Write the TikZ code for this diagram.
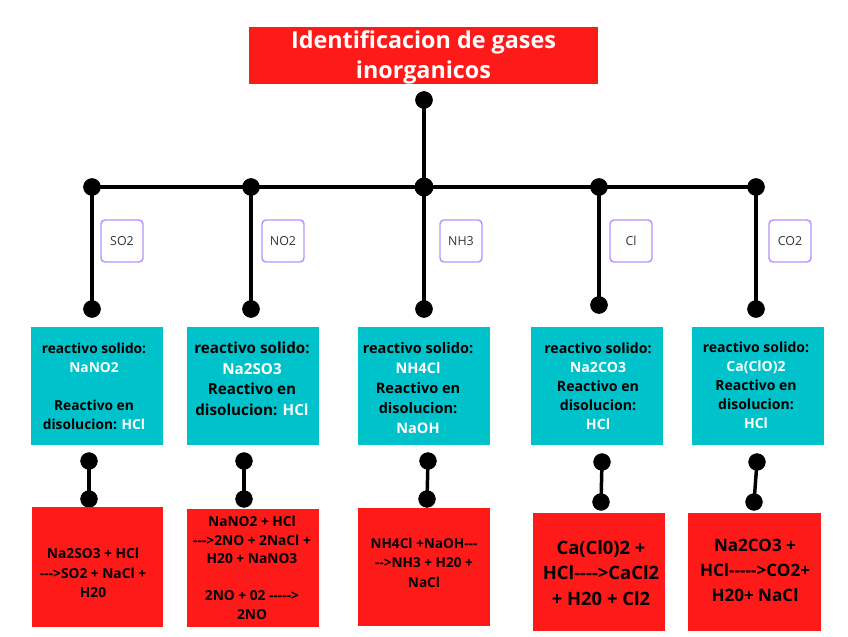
\documentclass[tikz,border=0pt]{standalone}
\usepackage{fontspec}
\setmainfont{Open Sans}[Ligatures=TeXOff]
\definecolor{tred}{RGB}{255,26,26}
\definecolor{tteal}{RGB}{0,194,203}
\definecolor{tlav}{RGB}{182,146,255}
\definecolor{tgray}{RGB}{51,51,51}
\begin{document}
\begin{tikzpicture}[x=0.75pt,y=-0.75pt,
  dot/.style={circle,fill=black,inner sep=0pt,minimum size=13pt},
  bigdot/.style={circle,fill=black,inner sep=0pt,minimum size=14pt},
  wire/.style={line width=3pt},
  sbox/.style={rectangle,inner sep=0pt,minimum width=99pt,minimum height=88.5pt},
  tealbox/.style={sbox,fill=tteal},
  redbox/.style={sbox,fill=tred},
  gaslabel/.style={rectangle,rounded corners=3pt,draw=tlav,line width=1.1pt,minimum size=31.5pt,inner sep=0pt,font=\fontsize{9.3}{10}\selectfont,text=tgray},
  ttext/.style={align=center,font=\bfseries\fontsize{10.5}{14.3}\selectfont,text=black,inner sep=0pt},
  rtext/.style={align=center,font=\bfseries\fontsize{10.2}{14.6}\selectfont,text=black,inner sep=0pt},
]
\useasboundingbox (0,0) rectangle (848,636);

% title
\node[rectangle,fill=tred,minimum width=261.75pt,minimum height=42.75pt,inner sep=0pt] (title) at (423.5,55.5) {};
\node[align=center,text=white,font=\bfseries\fontsize{17.5}{22.5}\selectfont,inner sep=0pt] (titletext) at (423.5,57) {Identificacion de gases\\inorganicos};

% dots
\node[dot] (top) at (424,100) {};
\node[bigdot] (junc) at (424,187) {};
\node[dot] (h1) at (92,187) {};
\node[dot] (h2) at (251,187) {};
\node[dot] (h4) at (599,187) {};
\node[dot] (h5) at (756,187) {};
\node[dot] (v1) at (92,309) {};
\node[dot] (v2) at (251,309) {};
\node[dot] (v3) at (424,309) {};
\node[dot] (v4) at (599,305) {};
\node[dot] (v5) at (756,309) {};

\draw[wire] (top.center) -- (junc.center);
\draw[wire] (h1.center) -- (h5.center);
\draw[wire] (h1.center) -- (v1.center);
\draw[wire] (h2.center) -- (v2.center);
\draw[wire] (junc.center) -- (v3.center);
\draw[wire] (h4.center) -- (v4.center);
\draw[wire] (h5.center) -- (v5.center);

% redraw dots on top
\foreach \n in {top,h1,h2,h4,h5,v1,v2,v3,v4,v5} {\fill (\n.center) circle[radius=6.5pt];}
\fill (junc.center) circle[radius=7pt];

% gas labels
\node[gaslabel] (g1) at (122,241) {SO2};
\node[gaslabel] (g2) at (283,241) {NO2};
\node[gaslabel] (g3) at (461,241) {NH3};
\node[gaslabel] (g4) at (631,241) {Cl};
\node[gaslabel] (g5) at (790,241) {CO2};

% teal boxes
\node[tealbox] (t1) at (97,385.5) {};
\node[tealbox] (t2) at (253,385.5) {};
\node[tealbox] (t3) at (423.5,385.5) {};
\node[tealbox] (t4) at (597,385.5) {};
\node[tealbox] (t5) at (758,385.5) {};

\node[ttext,font=\bfseries\fontsize{10.3}{14.3}\selectfont] (tt1) at (94,386) {reactivo solido:\\\textcolor{white}{NaNO2}\\[14.3pt]Reactivo en\\disolucion: \textcolor{white}{HCl}};
\node[ttext,font=\bfseries\fontsize{11.4}{15.4}\selectfont] (tt2) at (252,379) {reactivo solido:\\\textcolor{white}{Na2SO3}\\Reactivo en\\disolucion: \textcolor{white}{HCl}};
\node[ttext,font=\bfseries\fontsize{10.9}{15}\selectfont] (tt3) at (418,388.5) {reactivo solido:\\\textcolor{white}{NH4Cl}\\Reactivo en\\disolucion:\\\textcolor{white}{NaOH}};
\node[ttext,font=\bfseries\fontsize{10.6}{14.3}\selectfont] (tt4) at (598,386) {reactivo solido:\\\textcolor{white}{Na2CO3}\\Reactivo en\\disolucion:\\\textcolor{white}{HCl}};
\node[ttext] (tt5) at (756,385.5) {reactivo solido:\\\textcolor{white}{Ca(ClO)2}\\Reactivo en\\disolucion:\\\textcolor{white}{HCl}};

% lower dots
\node[dot] (u1) at (89,461) {};
\node[dot] (l1) at (89,499) {};
\node[dot] (u2) at (244,461) {};
\node[dot] (l2) at (244,499) {};
\node[dot] (u3) at (428,461) {};
\node[dot] (l3) at (427,499) {};
\node[dot] (u4) at (602,462) {};
\node[dot] (l4) at (601,502) {};
\node[dot] (u5) at (757,462) {};
\node[dot] (l5) at (754,502) {};
\foreach \i in {1,...,5} {\draw[line width=2.6pt] (u\i.center) -- (l\i.center);}
\foreach \i in {1,...,5} {\fill (u\i.center) circle[radius=6.3pt]; \fill (l\i.center) circle[radius=6.3pt];}

% red boxes
\node[redbox,minimum width=98.25pt,minimum height=90pt] (r1) at (97.5,567) {};
\node[redbox,minimum height=88.5pt] (r2) at (253,568) {};
\node[redbox,minimum height=88.5pt] (r3) at (424,567) {};
\node[redbox,minimum height=88.5pt] (r4) at (599,572) {};
\node[redbox,minimum width=99.75pt,minimum height=88.5pt] (r5) at (754.5,572) {};

\node[rtext,font=\bfseries\fontsize{10.3}{14.6}\selectfont] (rt1) at (93,573) {Na2SO3 + HCl\\--->SO2 + NaCl +\\H20};
\node[rtext,font=\bfseries\fontsize{10.3}{13.9}\selectfont] (rt2) at (252,568) {NaNO2 + HCl\\--->2NO + 2NaCl +\\H20 + NaNO3\\[13.9pt]2NO + 02 ----->\\2NO};
\node[rtext] (rt3) at (424,562.5) {NH4Cl +NaOH---\\-->NH3 + H20 +\\NaCl};
\node[rtext,font=\bfseries\fontsize{13.8}{19.1}\selectfont] (rt4) at (601,573) {Ca(Cl0)2 +\\HCl---->CaCl2\\+ H20 + Cl2};
\node[rtext,font=\bfseries\fontsize{12.8}{18.8}\selectfont] (rt5) at (755,570.5) {Na2CO3 +\\HCl----->CO2+\\H20+ NaCl};
\end{tikzpicture}
\end{document}
